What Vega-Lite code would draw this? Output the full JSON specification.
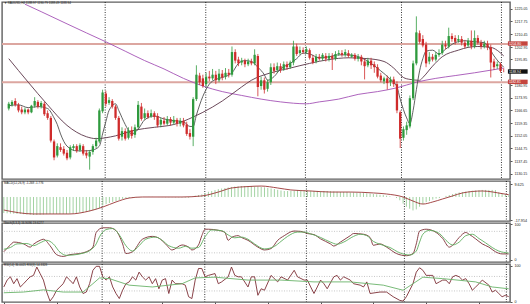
{
"$schema":"https://vega.github.io/schema/vega-lite/v6.json",
"padding":0,"background":"white","spacing":2,"bounds":"flush",
"resolve":{"scale":{"color":"independent"}},
"config":{"view":{"stroke":"#5f5f5f","strokeWidth":1.4},"font":"Liberation Sans","axis":{"labelFont":"Liberation Sans","labelFontSize":3.7,"labelColor":"#222","tickColor":"#555","tickSize":2,"domain":false,"grid":false,"labelPadding":2,"labelOverlap":false,"labelBound":false,"labelSeparation":0},"title":{"font":"Liberation Sans","fontWeight":"normal","color":"#222","anchor":"start","frame":"group","baseline":"top"}},
"datasets":{
"seps":[{"b":29.8},{"b":60.9},{"b":91.7},{"b":121.4},{"b":152.3}],
"levels":[{"p":1204.8},{"p":1182.8}],
"tags":[{"p":1205.0,"t":"1204.80","k":"r"},{"p":1188.94,"t":"1188.94","k":"k"},{"p":1183.0,"t":"1182.81","k":"r"}],
"candles":[
{"b":0,"o":1167.7,"h":1171.5,"l":1166.6,"c":1170.4},{"b":1,"o":1169.8,"h":1172.5,"l":1168.8,"c":1171.5},{"b":2,"o":1172.0,"h":1173.6,"l":1168.8,"c":1169.8},{"b":3,"o":1169.8,"h":1170.9,"l":1165.5,"c":1166.6},{"b":4,"o":1167.1,"h":1168.8,"l":1164.4,"c":1165.5},{"b":5,"o":1165.5,"h":1168.2,"l":1164.4,"c":1167.1},{"b":6,"o":1167.1,"h":1167.7,"l":1164.4,"c":1165.5},{"b":7,"o":1165.5,"h":1169.8,"l":1165.0,"c":1169.3},{"b":8,"o":1169.3,"h":1174.2,"l":1168.2,"c":1172.0},{"b":9,"o":1171.5,"h":1172.5,"l":1167.7,"c":1168.8},
{"b":10,"o":1168.8,"h":1172.0,"l":1167.7,"c":1170.9},{"b":11,"o":1170.4,"h":1171.5,"l":1163.4,"c":1164.4},{"b":12,"o":1165.0,"h":1166.6,"l":1161.2,"c":1162.3},{"b":13,"o":1162.3,"h":1163.4,"l":1148.2,"c":1149.3},{"b":14,"o":1148.8,"h":1149.9,"l":1138.0,"c":1139.6},{"b":15,"o":1140.7,"h":1147.7,"l":1139.6,"c":1146.1},{"b":16,"o":1145.5,"h":1147.7,"l":1142.8,"c":1143.9},{"b":17,"o":1144.5,"h":1146.1,"l":1140.7,"c":1141.8},{"b":18,"o":1142.3,"h":1143.9,"l":1138.0,"c":1139.1},{"b":19,"o":1139.6,"h":1146.6,"l":1138.5,"c":1145.5},
{"b":20,"o":1145.0,"h":1147.2,"l":1143.4,"c":1146.1},{"b":21,"o":1146.1,"h":1147.2,"l":1142.3,"c":1143.4},{"b":22,"o":1143.9,"h":1147.7,"l":1142.8,"c":1146.6},{"b":23,"o":1146.1,"h":1147.2,"l":1140.7,"c":1141.8},{"b":24,"o":1142.3,"h":1143.9,"l":1139.1,"c":1140.7},{"b":25,"o":1140.1,"h":1143.9,"l":1132.6,"c":1142.8},{"b":26,"o":1142.8,"h":1147.2,"l":1141.2,"c":1146.1},{"b":27,"o":1146.1,"h":1150.9,"l":1145.0,"c":1149.3},{"b":28,"o":1148.8,"h":1167.7,"l":1147.7,"c":1166.6},{"b":29,"o":1166.1,"h":1178.5,"l":1165.0,"c":1176.9},
{"b":30,"o":1176.3,"h":1177.9,"l":1168.8,"c":1170.4},{"b":31,"o":1170.9,"h":1174.2,"l":1169.8,"c":1172.5},{"b":32,"o":1172.0,"h":1173.1,"l":1167.7,"c":1168.8},{"b":33,"o":1168.8,"h":1169.8,"l":1161.2,"c":1162.3},{"b":34,"o":1162.3,"h":1163.4,"l":1149.3,"c":1150.4},{"b":35,"o":1151.5,"h":1156.9,"l":1149.3,"c":1154.7},{"b":36,"o":1154.7,"h":1156.3,"l":1149.3,"c":1150.4},{"b":37,"o":1150.9,"h":1156.9,"l":1149.9,"c":1155.3},{"b":38,"o":1155.3,"h":1157.4,"l":1150.4,"c":1152.0},{"b":39,"o":1152.6,"h":1158.5,"l":1150.9,"c":1156.9},
{"b":40,"o":1156.9,"h":1172.0,"l":1155.8,"c":1169.8},{"b":41,"o":1168.8,"h":1170.9,"l":1160.7,"c":1161.7},{"b":42,"o":1162.3,"h":1167.7,"l":1161.2,"c":1165.0},{"b":43,"o":1165.0,"h":1166.6,"l":1161.7,"c":1162.8},{"b":44,"o":1163.4,"h":1167.1,"l":1162.3,"c":1165.0},{"b":45,"o":1165.0,"h":1166.1,"l":1161.2,"c":1162.8},{"b":46,"o":1163.4,"h":1165.0,"l":1156.9,"c":1158.0},{"b":47,"o":1158.5,"h":1162.3,"l":1156.9,"c":1161.2},{"b":48,"o":1160.7,"h":1162.8,"l":1158.0,"c":1159.0},{"b":49,"o":1159.0,"h":1163.4,"l":1158.0,"c":1161.7},
{"b":50,"o":1161.7,"h":1162.8,"l":1158.0,"c":1159.6},{"b":51,"o":1159.6,"h":1163.4,"l":1158.5,"c":1161.2},{"b":52,"o":1161.2,"h":1162.3,"l":1157.4,"c":1159.0},{"b":53,"o":1159.0,"h":1162.3,"l":1157.4,"c":1160.7},{"b":54,"o":1160.7,"h":1162.3,"l":1156.9,"c":1158.0},{"b":55,"o":1158.5,"h":1160.1,"l":1152.0,"c":1153.1},{"b":56,"o":1153.6,"h":1155.8,"l":1149.9,"c":1151.5},{"b":57,"o":1151.5,"h":1174.2,"l":1146.1,"c":1173.1},{"b":58,"o":1173.1,"h":1192.5,"l":1172.0,"c":1187.1},{"b":59,"o":1186.6,"h":1188.2,"l":1181.2,"c":1182.8},
{"b":60,"o":1185.0,"h":1187.1,"l":1179.6,"c":1180.6},{"b":61,"o":1181.7,"h":1188.2,"l":1180.1,"c":1186.0},{"b":62,"o":1186.0,"h":1189.3,"l":1183.3,"c":1185.0},{"b":63,"o":1185.0,"h":1190.4,"l":1183.9,"c":1187.1},{"b":64,"o":1187.1,"h":1189.3,"l":1181.7,"c":1183.9},{"b":65,"o":1183.9,"h":1190.4,"l":1182.8,"c":1187.7},{"b":66,"o":1187.7,"h":1189.8,"l":1183.9,"c":1185.5},{"b":67,"o":1186.0,"h":1190.9,"l":1184.4,"c":1188.2},{"b":68,"o":1188.2,"h":1190.4,"l":1185.5,"c":1187.1},{"b":69,"o":1187.1,"h":1203.3,"l":1186.0,"c":1200.1},
{"b":70,"o":1200.1,"h":1201.7,"l":1193.6,"c":1195.2},{"b":71,"o":1195.8,"h":1197.4,"l":1192.0,"c":1193.6},{"b":72,"o":1194.1,"h":1196.8,"l":1192.5,"c":1195.2},{"b":73,"o":1195.2,"h":1196.3,"l":1191.4,"c":1193.1},{"b":74,"o":1193.1,"h":1196.3,"l":1192.0,"c":1194.7},{"b":75,"o":1194.7,"h":1196.3,"l":1192.5,"c":1193.6},{"b":76,"o":1193.6,"h":1201.7,"l":1192.5,"c":1198.5},{"b":77,"o":1197.9,"h":1199.0,"l":1174.7,"c":1180.1},{"b":78,"o":1180.6,"h":1186.0,"l":1178.5,"c":1183.9},{"b":79,"o":1183.9,"h":1185.5,"l":1176.3,"c":1178.5},
{"b":80,"o":1179.0,"h":1184.4,"l":1177.4,"c":1182.8},{"b":81,"o":1182.8,"h":1193.6,"l":1181.2,"c":1191.4},{"b":82,"o":1191.4,"h":1193.6,"l":1187.7,"c":1189.3},{"b":83,"o":1189.8,"h":1194.1,"l":1188.2,"c":1192.0},{"b":84,"o":1192.0,"h":1193.6,"l":1188.2,"c":1189.8},{"b":85,"o":1190.4,"h":1194.7,"l":1189.3,"c":1193.1},{"b":86,"o":1193.1,"h":1194.7,"l":1189.8,"c":1191.4},{"b":87,"o":1191.4,"h":1195.2,"l":1190.4,"c":1194.1},{"b":88,"o":1194.1,"h":1206.6,"l":1192.5,"c":1203.3},{"b":89,"o":1203.3,"h":1204.9,"l":1197.9,"c":1199.0},
{"b":90,"o":1199.5,"h":1203.3,"l":1198.5,"c":1201.2},{"b":91,"o":1201.2,"h":1202.8,"l":1199.0,"c":1200.1},{"b":92,"o":1200.1,"h":1203.3,"l":1199.0,"c":1201.7},{"b":93,"o":1201.2,"h":1202.2,"l":1195.8,"c":1196.8},{"b":94,"o":1196.8,"h":1198.5,"l":1193.1,"c":1194.1},{"b":95,"o":1194.7,"h":1199.0,"l":1193.6,"c":1197.4},{"b":96,"o":1197.4,"h":1199.0,"l":1195.2,"c":1196.3},{"b":97,"o":1196.3,"h":1199.5,"l":1195.2,"c":1198.5},{"b":98,"o":1197.9,"h":1199.5,"l":1194.7,"c":1196.3},{"b":99,"o":1196.3,"h":1199.5,"l":1194.7,"c":1197.9},
{"b":100,"o":1197.9,"h":1199.5,"l":1189.8,"c":1196.3},{"b":101,"o":1196.3,"h":1200.6,"l":1195.2,"c":1199.0},{"b":102,"o":1199.0,"h":1201.2,"l":1197.9,"c":1199.5},{"b":103,"o":1199.5,"h":1201.2,"l":1197.4,"c":1198.5},{"b":104,"o":1198.5,"h":1201.7,"l":1197.4,"c":1200.1},{"b":105,"o":1199.5,"h":1201.2,"l":1196.8,"c":1197.9},{"b":106,"o":1197.4,"h":1199.5,"l":1196.8,"c":1198.5},{"b":107,"o":1198.5,"h":1199.5,"l":1195.2,"c":1196.3},{"b":108,"o":1196.3,"h":1199.0,"l":1194.7,"c":1197.4},{"b":109,"o":1197.4,"h":1198.5,"l":1192.5,"c":1194.7},
{"b":110,"o":1194.7,"h":1196.3,"l":1184.4,"c":1192.0},{"b":111,"o":1192.5,"h":1196.8,"l":1191.4,"c":1195.2},{"b":112,"o":1195.2,"h":1196.8,"l":1190.4,"c":1192.5},{"b":113,"o":1193.1,"h":1194.7,"l":1188.2,"c":1191.4},{"b":114,"o":1191.4,"h":1193.1,"l":1185.0,"c":1186.0},{"b":115,"o":1186.6,"h":1188.2,"l":1182.8,"c":1183.9},{"b":116,"o":1183.3,"h":1186.0,"l":1181.7,"c":1185.0},{"b":117,"o":1185.0,"h":1186.6,"l":1178.5,"c":1182.3},{"b":118,"o":1182.8,"h":1186.0,"l":1180.6,"c":1184.4},{"b":119,"o":1184.4,"h":1186.0,"l":1180.1,"c":1181.7},
{"b":120,"o":1181.7,"h":1183.3,"l":1165.0,"c":1166.6},{"b":121,"o":1165.5,"h":1166.6,"l":1145.0,"c":1150.4},{"b":122,"o":1150.9,"h":1157.4,"l":1149.3,"c":1155.8},{"b":123,"o":1155.3,"h":1160.1,"l":1152.6,"c":1158.0},{"b":124,"o":1157.4,"h":1175.2,"l":1156.3,"c":1173.6},{"b":125,"o":1173.6,"h":1195.2,"l":1172.5,"c":1193.6},{"b":126,"o":1193.6,"h":1220.6,"l":1192.5,"c":1211.4},{"b":127,"o":1210.9,"h":1212.5,"l":1204.9,"c":1206.0},{"b":128,"o":1207.6,"h":1209.8,"l":1202.8,"c":1203.9},{"b":129,"o":1204.4,"h":1206.0,"l":1191.4,"c":1193.6},
{"b":130,"o":1194.7,"h":1200.1,"l":1193.1,"c":1197.4},{"b":131,"o":1197.4,"h":1199.0,"l":1194.7,"c":1195.8},{"b":132,"o":1195.8,"h":1200.1,"l":1194.7,"c":1198.5},{"b":133,"o":1198.5,"h":1201.7,"l":1197.4,"c":1199.5},{"b":134,"o":1199.5,"h":1206.6,"l":1198.5,"c":1204.4},{"b":135,"o":1204.4,"h":1206.6,"l":1201.7,"c":1203.3},{"b":136,"o":1203.3,"h":1214.1,"l":1202.2,"c":1209.3},{"b":137,"o":1209.3,"h":1210.9,"l":1206.0,"c":1207.6},{"b":138,"o":1208.2,"h":1209.8,"l":1204.4,"c":1206.0},{"b":139,"o":1206.6,"h":1209.8,"l":1205.5,"c":1207.6},
{"b":140,"o":1207.6,"h":1209.3,"l":1203.9,"c":1205.5},{"b":141,"o":1205.5,"h":1207.1,"l":1202.2,"c":1203.3},{"b":142,"o":1203.9,"h":1208.2,"l":1202.8,"c":1206.6},{"b":143,"o":1206.6,"h":1212.5,"l":1201.7,"c":1203.3},{"b":144,"o":1203.3,"h":1212.5,"l":1202.2,"c":1208.2},{"b":145,"o":1208.2,"h":1209.8,"l":1204.4,"c":1205.5},{"b":146,"o":1205.5,"h":1207.1,"l":1201.7,"c":1203.3},{"b":147,"o":1203.3,"h":1206.6,"l":1202.2,"c":1204.9},{"b":148,"o":1204.9,"h":1206.6,"l":1201.2,"c":1202.8},{"b":149,"o":1202.8,"h":1204.4,"l":1185.5,"c":1194.1},
{"b":150,"o":1194.7,"h":1196.3,"l":1189.8,"c":1191.4},{"b":151,"o":1192.0,"h":1194.7,"l":1190.4,"c":1193.1},{"b":152,"o":1193.1,"h":1194.1,"l":1188.2,"c":1189.3},{"b":153,"o":1188.97,"h":1190.79,"l":1188.49,"c":1188.94}],
"ma":[
{"b":5,"v":1227.6,"s":"slow"},{"b":10,"v":1223.3,"s":"slow"},{"b":18,"v":1216.3,"s":"slow"},{"b":24,"v":1211.1,"s":"slow"},{"b":30,"v":1206.0,"s":"slow"},{"b":36,"v":1200.6,"s":"slow"},{"b":42,"v":1195.2,"s":"slow"},{"b":48,"v":1190.4,"s":"slow"},{"b":54,"v":1185.0,"s":"slow"},{"b":60,"v":1180.6,"s":"slow"},{"b":66,"v":1177.4,"s":"slow"},{"b":72,"v":1175.2,"s":"slow"},{"b":78,"v":1173.1,"s":"slow"},{"b":84,"v":1171.5,"s":"slow"},{"b":92,"v":1170.4,"s":"slow"},{"b":96,"v":1171.5,"s":"slow"},{"b":102,"v":1173.1,"s":"slow"},{"b":108,"v":1175.8,"s":"slow"},{"b":114,"v":1177.4,"s":"slow"},{"b":120,"v":1179.6,"s":"slow"},{"b":126,"v":1182.8,"s":"slow"},{"b":132,"v":1185.0,"s":"slow"},{"b":138,"v":1186.6,"s":"slow"},{"b":144,"v":1188.2,"s":"slow"},{"b":153,"v":1190.9,"s":"slow"},
{"b":0,"v":1196.3,"s":"mid"},{"b":6,"v":1182.8,"s":"mid"},{"b":12,"v":1169.8,"s":"mid"},{"b":18,"v":1158.0,"s":"mid"},{"b":24,"v":1151.5,"s":"mid"},{"b":27,"v":1150.4,"s":"mid"},{"b":33,"v":1152.0,"s":"mid"},{"b":39,"v":1155.3,"s":"mid"},{"b":45,"v":1156.9,"s":"mid"},{"b":51,"v":1158.5,"s":"mid"},{"b":57,"v":1162.8,"s":"mid"},{"b":60,"v":1165.5,"s":"mid"},{"b":66,"v":1172.0,"s":"mid"},{"b":72,"v":1180.1,"s":"mid"},{"b":75,"v":1183.9,"s":"mid"},{"b":81,"v":1188.2,"s":"mid"},{"b":87,"v":1190.9,"s":"mid"},{"b":93,"v":1193.6,"s":"mid"},{"b":99,"v":1195.8,"s":"mid"},{"b":105,"v":1196.8,"s":"mid"},{"b":111,"v":1196.3,"s":"mid"},{"b":116,"v":1194.7,"s":"mid"},{"b":119,"v":1190.9,"s":"mid"},{"b":122,"v":1185.5,"s":"mid"},{"b":124,"v":1184.4,"s":"mid"},{"b":127,"v":1183.9,"s":"mid"},{"b":128,"v":1185.5,"s":"mid"},{"b":131,"v":1192.0,"s":"mid"},{"b":134,"v":1197.4,"s":"mid"},{"b":139,"v":1201.2,"s":"mid"},{"b":142,"v":1202.8,"s":"mid"},{"b":145,"v":1203.3,"s":"mid"},{"b":149,"v":1202.8,"s":"mid"},{"b":153,"v":1197.9,"s":"mid"},
{"b":0,"v":1169.3,"s":"fast"},{"b":3,"v":1169.8,"s":"fast"},{"b":6,"v":1168.2,"s":"fast"},{"b":9,"v":1168.8,"s":"fast"},{"b":12,"v":1167.7,"s":"fast"},{"b":14,"v":1162.3,"s":"fast"},{"b":15,"v":1158.5,"s":"fast"},{"b":16,"v":1153.1,"s":"fast"},{"b":18,"v":1146.1,"s":"fast"},{"b":21,"v":1143.4,"s":"fast"},{"b":24,"v":1143.4,"s":"fast"},{"b":26,"v":1143.9,"s":"fast"},{"b":28,"v":1146.1,"s":"fast"},{"b":29,"v":1153.1,"s":"fast"},{"b":30,"v":1160.1,"s":"fast"},{"b":31,"v":1166.6,"s":"fast"},{"b":33,"v":1170.4,"s":"fast"},{"b":34,"v":1166.6,"s":"fast"},{"b":36,"v":1158.5,"s":"fast"},{"b":38,"v":1153.1,"s":"fast"},{"b":40,"v":1155.8,"s":"fast"},{"b":42,"v":1161.2,"s":"fast"},{"b":45,"v":1163.4,"s":"fast"},{"b":48,"v":1161.7,"s":"fast"},{"b":51,"v":1160.7,"s":"fast"},{"b":54,"v":1160.1,"s":"fast"},{"b":56,"v":1157.4,"s":"fast"},{"b":57,"v":1157.4,"s":"fast"},{"b":58,"v":1163.9,"s":"fast"},{"b":60,"v":1174.7,"s":"fast"},{"b":62,"v":1181.7,"s":"fast"},{"b":64,"v":1184.4,"s":"fast"},{"b":66,"v":1185.5,"s":"fast"},{"b":69,"v":1188.2,"s":"fast"},{"b":71,"v":1193.6,"s":"fast"},{"b":73,"v":1195.2,"s":"fast"},{"b":75,"v":1194.7,"s":"fast"},{"b":77,"v":1191.4,"s":"fast"},{"b":79,"v":1187.1,"s":"fast"},{"b":80,"v":1183.9,"s":"fast"},{"b":82,"v":1186.0,"s":"fast"},{"b":84,"v":1190.4,"s":"fast"},{"b":87,"v":1193.6,"s":"fast"},{"b":89,"v":1196.3,"s":"fast"},{"b":91,"v":1199.5,"s":"fast"},{"b":93,"v":1199.0,"s":"fast"},{"b":96,"v":1196.8,"s":"fast"},{"b":99,"v":1197.4,"s":"fast"},{"b":102,"v":1198.5,"s":"fast"},{"b":105,"v":1198.5,"s":"fast"},{"b":109,"v":1196.8,"s":"fast"},{"b":112,"v":1193.6,"s":"fast"},{"b":115,"v":1189.3,"s":"fast"},{"b":118,"v":1184.4,"s":"fast"},{"b":120,"v":1180.1,"s":"fast"},{"b":121,"v":1173.1,"s":"fast"},{"b":123,"v":1162.3,"s":"fast"},{"b":124,"v":1159.0,"s":"fast"},{"b":125,"v":1166.6,"s":"fast"},{"b":126,"v":1178.5,"s":"fast"},{"b":127,"v":1189.3,"s":"fast"},{"b":128,"v":1196.3,"s":"fast"},{"b":129,"v":1200.6,"s":"fast"},{"b":131,"v":1201.2,"s":"fast"},{"b":133,"v":1199.0,"s":"fast"},{"b":135,"v":1201.7,"s":"fast"},{"b":138,"v":1205.5,"s":"fast"},{"b":141,"v":1206.6,"s":"fast"},{"b":144,"v":1206.0,"s":"fast"},{"b":147,"v":1205.5,"s":"fast"},{"b":148,"v":1203.9,"s":"fast"},{"b":150,"v":1197.9,"s":"fast"},{"b":153,"v":1191.4,"s":"fast"}],
"macd":[
{"b":0,"m":-12.3},{"b":1,"m":-12.5},{"b":2,"m":-12.7},{"b":3,"m":-12.8},{"b":4,"m":-13.0},{"b":5,"m":-13.0},{"b":6,"m":-13.2},{"b":7,"m":-13.4},{"b":8,"m":-13.6},{"b":9,"m":-13.8},{"b":10,"m":-13.8},{"b":11,"m":-13.6},{"b":12,"m":-13.4},{"b":13,"m":-13.2},{"b":14,"m":-13.0},{"b":15,"m":-13.0},{"b":16,"m":-13.0},{"b":17,"m":-13.0},{"b":18,"m":-13.0},{"b":19,"m":-13.0},{"b":20,"m":-12.8},{"b":21,"m":-12.6},{"b":22,"m":-12.3},{"b":23,"m":-12.0},{"b":24,"m":-11.8},{"b":25,"m":-11.5},{"b":26,"m":-11.0},{"b":27,"m":-10.3},{"b":28,"m":-9.5},{"b":29,"m":-8.5},{"b":30,"m":-6.5},{"b":31,"m":-5.5},{"b":32,"m":-4.6},{"b":33,"m":-3.8},{"b":34,"m":-3.1},{"b":35,"m":-2.3},{"b":36,"m":-1.5},{"b":37,"m":-1.0},{"b":38,"m":-0.8},{"b":39,"m":-0.6},{"b":40,"m":-0.4},{"b":41,"m":-0.2},{"b":42,"m":-0.1},{"b":43,"m":0.0},{"b":44,"m":0.1},{"b":45,"m":0.1},{"b":46,"m":0.0},{"b":47,"m":-0.1},{"b":48,"m":-0.1},{"b":49,"m":-0.2},{"b":50,"m":-0.2},{"b":51,"m":-0.2},{"b":52,"m":-0.3},{"b":53,"m":-0.3},{"b":54,"m":-0.4},{"b":55,"m":-0.5},{"b":56,"m":-0.6},{"b":57,"m":0.2},{"b":58,"m":1.0},{"b":59,"m":1.5},{"b":60,"m":2.0},{"b":61,"m":3.0},{"b":62,"m":4.0},{"b":63,"m":4.6},{"b":64,"m":5.3},{"b":65,"m":6.0},{"b":66,"m":6.5},{"b":67,"m":6.9},{"b":68,"m":7.3},{"b":69,"m":7.7},{"b":70,"m":8.0},{"b":71,"m":8.2},{"b":72,"m":8.4},{"b":73,"m":8.4},{"b":74,"m":8.4},{"b":75,"m":8.4},{"b":76,"m":8.2},{"b":77,"m":8.0},{"b":78,"m":7.7},{"b":79,"m":7.4},{"b":80,"m":7.0},{"b":81,"m":6.5},{"b":82,"m":6.1},{"b":83,"m":5.5},{"b":84,"m":5.0},{"b":85,"m":4.6},{"b":86,"m":4.6},{"b":87,"m":4.6},{"b":88,"m":4.8},{"b":89,"m":5.2},{"b":90,"m":5.4},{"b":91,"m":5.2},{"b":92,"m":5.0},{"b":93,"m":4.8},{"b":94,"m":4.6},{"b":95,"m":4.6},{"b":96,"m":4.6},{"b":97,"m":4.6},{"b":98,"m":4.6},{"b":99,"m":4.5},{"b":100,"m":4.2},{"b":101,"m":4.0},{"b":102,"m":3.8},{"b":103,"m":3.8},{"b":104,"m":3.8},{"b":105,"m":3.6},{"b":106,"m":3.4},{"b":107,"m":3.2},{"b":108,"m":3.1},{"b":109,"m":3.0},{"b":110,"m":2.8},{"b":111,"m":2.6},{"b":112,"m":2.3},{"b":113,"m":2.0},{"b":114,"m":1.7},{"b":115,"m":1.5},{"b":116,"m":1.0},{"b":117,"m":0.5},{"b":118,"m":0.0},{"b":119,"m":-0.8},{"b":120,"m":-2.5},{"b":121,"m":-5.0},{"b":122,"m":-7.5},{"b":123,"m":-9.0},{"b":124,"m":-10.3},{"b":125,"m":-9.5},{"b":126,"m":-7.5},{"b":127,"m":-5.4},{"b":128,"m":-4.0},{"b":129,"m":-3.1},{"b":130,"m":-2.0},{"b":131,"m":-1.2},{"b":132,"m":-0.8},{"b":133,"m":0.0},{"b":134,"m":0.8},{"b":135,"m":1.5},{"b":136,"m":2.3},{"b":137,"m":3.0},{"b":138,"m":3.5},{"b":139,"m":3.8},{"b":140,"m":4.2},{"b":141,"m":4.6},{"b":142,"m":4.8},{"b":143,"m":5.0},{"b":144,"m":5.2},{"b":145,"m":5.4},{"b":146,"m":5.4},{"b":147,"m":5.4},{"b":148,"m":5.4},{"b":149,"m":5.3},{"b":150,"m":3.6},{"b":151,"m":2.8},{"b":152,"m":2.0},{"b":153,"m":1.27}],
"macds":[{"b":0,"v":-10.0},{"b":9,"v":-13.0},{"b":20,"v":-13.0},{"b":26,"v":-10.7},{"b":30,"v":-7.7},{"b":34,"v":-3.8},{"b":38,"v":-0.8},{"b":42,"v":0},{"b":54,"v":0},{"b":60,"v":0.8},{"b":65,"v":3.8},{"b":69,"v":6.9},{"b":74,"v":8.0},{"b":78,"v":8.4},{"b":83,"v":6.9},{"b":87,"v":5.4},{"b":93,"v":4.6},{"b":99,"v":3.8},{"b":105,"v":3.8},{"b":112,"v":3.1},{"b":116,"v":2.3},{"b":121,"v":0},{"b":124,"v":-3.1},{"b":127,"v":-5.4},{"b":130,"v":-3.8},{"b":133,"v":-1.5},{"b":136,"v":0.8},{"b":139,"v":3.1},{"b":145,"v":4.6},{"b":151,"v":2.6},{"b":153,"v":1.78}],
"stoch":[
{"b":0,"v":23,"s":"m"},{"b":2,"v":42,"s":"m"},{"b":3,"v":50,"s":"m"},{"b":6,"v":45,"s":"m"},{"b":8,"v":36,"s":"m"},{"b":9,"v":44,"s":"m"},{"b":11,"v":55,"s":"m"},{"b":12,"v":58,"s":"m"},{"b":14,"v":40,"s":"m"},{"b":16,"v":15,"s":"m"},{"b":18,"v":10,"s":"m"},{"b":20,"v":15,"s":"m"},{"b":23,"v":18,"s":"m"},{"b":25,"v":23,"s":"m"},{"b":27,"v":36,"s":"m"},{"b":28,"v":77,"s":"m"},{"b":30,"v":90,"s":"m"},{"b":32,"v":90,"s":"m"},{"b":34,"v":82,"s":"m"},{"b":36,"v":45,"s":"m"},{"b":37,"v":18,"s":"m"},{"b":39,"v":23,"s":"m"},{"b":42,"v":58,"s":"m"},{"b":45,"v":66,"s":"m"},{"b":47,"v":61,"s":"m"},{"b":49,"v":45,"s":"m"},{"b":51,"v":28,"s":"m"},{"b":54,"v":42,"s":"m"},{"b":56,"v":36,"s":"m"},{"b":57,"v":28,"s":"m"},{"b":59,"v":42,"s":"m"},{"b":60,"v":68,"s":"m"},{"b":61,"v":86,"s":"m"},{"b":62,"v":86,"s":"m"},{"b":65,"v":83,"s":"m"},{"b":67,"v":77,"s":"m"},{"b":68,"v":55,"s":"m"},{"b":69,"v":63,"s":"m"},{"b":71,"v":68,"s":"m"},{"b":72,"v":63,"s":"m"},{"b":74,"v":55,"s":"m"},{"b":77,"v":36,"s":"m"},{"b":79,"v":28,"s":"m"},{"b":81,"v":32,"s":"m"},{"b":83,"v":55,"s":"m"},{"b":85,"v":68,"s":"m"},{"b":88,"v":81,"s":"m"},{"b":90,"v":80,"s":"m"},{"b":92,"v":74,"s":"m"},{"b":94,"v":71,"s":"m"},{"b":96,"v":59,"s":"m"},{"b":99,"v":45,"s":"m"},{"b":100,"v":39,"s":"m"},{"b":102,"v":50,"s":"m"},{"b":105,"v":68,"s":"m"},{"b":106,"v":74,"s":"m"},{"b":109,"v":72,"s":"m"},{"b":111,"v":63,"s":"m"},{"b":112,"v":41,"s":"m"},{"b":114,"v":45,"s":"m"},{"b":116,"v":36,"s":"m"},{"b":119,"v":18,"s":"m"},{"b":122,"v":12,"s":"m"},{"b":124,"v":18,"s":"m"},{"b":125,"v":45,"s":"m"},{"b":126,"v":81,"s":"m"},{"b":128,"v":86,"s":"m"},{"b":131,"v":77,"s":"m"},{"b":133,"v":60,"s":"m"},{"b":135,"v":36,"s":"m"},{"b":136,"v":41,"s":"m"},{"b":138,"v":63,"s":"m"},{"b":140,"v":77,"s":"m"},{"b":141,"v":72,"s":"m"},{"b":143,"v":59,"s":"m"},{"b":145,"v":45,"s":"m"},{"b":147,"v":36,"s":"m"},{"b":149,"v":23,"s":"m"},{"b":151,"v":17,"s":"m"},{"b":153,"v":16.91,"s":"m"},
{"b":0,"v":30,"s":"s"},{"b":2,"v":35,"s":"s"},{"b":4,"v":45,"s":"s"},{"b":7,"v":46,"s":"s"},{"b":9,"v":40,"s":"s"},{"b":11,"v":48,"s":"s"},{"b":13,"v":55,"s":"s"},{"b":15,"v":45,"s":"s"},{"b":17,"v":22,"s":"s"},{"b":19,"v":13,"s":"s"},{"b":21,"v":14,"s":"s"},{"b":24,"v":19,"s":"s"},{"b":26,"v":26,"s":"s"},{"b":28,"v":45,"s":"s"},{"b":29,"v":65,"s":"s"},{"b":31,"v":85,"s":"s"},{"b":33,"v":88,"s":"s"},{"b":35,"v":70,"s":"s"},{"b":37,"v":40,"s":"s"},{"b":39,"v":25,"s":"s"},{"b":41,"v":40,"s":"s"},{"b":43,"v":58,"s":"s"},{"b":46,"v":64,"s":"s"},{"b":48,"v":55,"s":"s"},{"b":50,"v":40,"s":"s"},{"b":53,"v":33,"s":"s"},{"b":55,"v":38,"s":"s"},{"b":57,"v":33,"s":"s"},{"b":59,"v":35,"s":"s"},{"b":61,"v":65,"s":"s"},{"b":63,"v":84,"s":"s"},{"b":66,"v":82,"s":"s"},{"b":68,"v":70,"s":"s"},{"b":70,"v":62,"s":"s"},{"b":72,"v":64,"s":"s"},{"b":74,"v":58,"s":"s"},{"b":76,"v":45,"s":"s"},{"b":79,"v":31,"s":"s"},{"b":82,"v":38,"s":"s"},{"b":84,"v":52,"s":"s"},{"b":86,"v":66,"s":"s"},{"b":89,"v":78,"s":"s"},{"b":91,"v":78,"s":"s"},{"b":93,"v":73,"s":"s"},{"b":96,"v":63,"s":"s"},{"b":99,"v":50,"s":"s"},{"b":101,"v":44,"s":"s"},{"b":103,"v":50,"s":"s"},{"b":106,"v":66,"s":"s"},{"b":108,"v":72,"s":"s"},{"b":110,"v":68,"s":"s"},{"b":112,"v":52,"s":"s"},{"b":114,"v":44,"s":"s"},{"b":117,"v":35,"s":"s"},{"b":120,"v":20,"s":"s"},{"b":123,"v":14,"s":"s"},{"b":125,"v":25,"s":"s"},{"b":126,"v":50,"s":"s"},{"b":127,"v":72,"s":"s"},{"b":129,"v":83,"s":"s"},{"b":132,"v":74,"s":"s"},{"b":134,"v":55,"s":"s"},{"b":136,"v":42,"s":"s"},{"b":138,"v":50,"s":"s"},{"b":140,"v":68,"s":"s"},{"b":142,"v":72,"s":"s"},{"b":144,"v":60,"s":"s"},{"b":146,"v":48,"s":"s"},{"b":148,"v":35,"s":"s"},{"b":150,"v":25,"s":"s"},{"b":153,"v":19.63,"s":"s"}],
"rsi":[
{"b":0,"v":41,"s":"f"},{"b":1,"v":60,"s":"f"},{"b":2,"v":69,"s":"f"},{"b":3,"v":50,"s":"f"},{"b":4,"v":64,"s":"f"},{"b":5,"v":41,"s":"f"},{"b":6,"v":50,"s":"f"},{"b":7,"v":60,"s":"f"},{"b":8,"v":69,"s":"f"},{"b":9,"v":73,"s":"f"},{"b":10,"v":96,"s":"f"},{"b":11,"v":78,"s":"f"},{"b":12,"v":60,"s":"f"},{"b":13,"v":27,"s":"f"},{"b":14,"v":2,"s":"f"},{"b":15,"v":14,"s":"f"},{"b":16,"v":32,"s":"f"},{"b":17,"v":41,"s":"f"},{"b":18,"v":50,"s":"f"},{"b":19,"v":69,"s":"f"},{"b":20,"v":60,"s":"f"},{"b":21,"v":50,"s":"f"},{"b":22,"v":69,"s":"f"},{"b":23,"v":41,"s":"f"},{"b":24,"v":23,"s":"f"},{"b":25,"v":27,"s":"f"},{"b":26,"v":50,"s":"f"},{"b":27,"v":87,"s":"f"},{"b":28,"v":98,"s":"f"},{"b":29,"v":98,"s":"f"},{"b":30,"v":69,"s":"f"},{"b":31,"v":60,"s":"f"},{"b":32,"v":69,"s":"f"},{"b":33,"v":41,"s":"f"},{"b":34,"v":23,"s":"f"},{"b":35,"v":9,"s":"f"},{"b":36,"v":32,"s":"f"},{"b":37,"v":50,"s":"f"},{"b":38,"v":55,"s":"f"},{"b":39,"v":69,"s":"f"},{"b":40,"v":60,"s":"f"},{"b":41,"v":82,"s":"f"},{"b":42,"v":69,"s":"f"},{"b":43,"v":60,"s":"f"},{"b":44,"v":69,"s":"f"},{"b":45,"v":50,"s":"f"},{"b":46,"v":64,"s":"f"},{"b":47,"v":36,"s":"f"},{"b":48,"v":60,"s":"f"},{"b":49,"v":64,"s":"f"},{"b":50,"v":23,"s":"f"},{"b":51,"v":60,"s":"f"},{"b":52,"v":50,"s":"f"},{"b":54,"v":50,"s":"f"},{"b":55,"v":46,"s":"f"},{"b":56,"v":14,"s":"f"},{"b":57,"v":9,"s":"f"},{"b":58,"v":60,"s":"f"},{"b":59,"v":92,"s":"f"},{"b":60,"v":92,"s":"f"},{"b":61,"v":69,"s":"f"},{"b":62,"v":73,"s":"f"},{"b":64,"v":78,"s":"f"},{"b":65,"v":50,"s":"f"},{"b":66,"v":55,"s":"f"},{"b":68,"v":69,"s":"f"},{"b":69,"v":96,"s":"f"},{"b":70,"v":73,"s":"f"},{"b":71,"v":69,"s":"f"},{"b":72,"v":69,"s":"f"},{"b":74,"v":41,"s":"f"},{"b":75,"v":69,"s":"f"},{"b":76,"v":69,"s":"f"},{"b":77,"v":18,"s":"f"},{"b":78,"v":36,"s":"f"},{"b":79,"v":32,"s":"f"},{"b":81,"v":73,"s":"f"},{"b":83,"v":55,"s":"f"},{"b":84,"v":69,"s":"f"},{"b":86,"v":60,"s":"f"},{"b":88,"v":87,"s":"f"},{"b":89,"v":69,"s":"f"},{"b":91,"v":60,"s":"f"},{"b":92,"v":60,"s":"f"},{"b":93,"v":41,"s":"f"},{"b":94,"v":23,"s":"f"},{"b":95,"v":41,"s":"f"},{"b":96,"v":60,"s":"f"},{"b":97,"v":50,"s":"f"},{"b":98,"v":36,"s":"f"},{"b":100,"v":69,"s":"f"},{"b":101,"v":73,"s":"f"},{"b":102,"v":60,"s":"f"},{"b":103,"v":69,"s":"f"},{"b":105,"v":60,"s":"f"},{"b":106,"v":50,"s":"f"},{"b":108,"v":46,"s":"f"},{"b":109,"v":41,"s":"f"},{"b":110,"v":55,"s":"f"},{"b":111,"v":23,"s":"f"},{"b":114,"v":27,"s":"f"},{"b":116,"v":27,"s":"f"},{"b":118,"v":14,"s":"f"},{"b":120,"v":4,"s":"f"},{"b":121,"v":2,"s":"f"},{"b":122,"v":14,"s":"f"},{"b":124,"v":50,"s":"f"},{"b":125,"v":82,"s":"f"},{"b":126,"v":94,"s":"f"},{"b":127,"v":87,"s":"f"},{"b":128,"v":73,"s":"f"},{"b":130,"v":73,"s":"f"},{"b":131,"v":50,"s":"f"},{"b":132,"v":55,"s":"f"},{"b":133,"v":60,"s":"f"},{"b":134,"v":60,"s":"f"},{"b":135,"v":50,"s":"f"},{"b":136,"v":69,"s":"f"},{"b":137,"v":73,"s":"f"},{"b":138,"v":69,"s":"f"},{"b":139,"v":60,"s":"f"},{"b":140,"v":64,"s":"f"},{"b":141,"v":50,"s":"f"},{"b":142,"v":32,"s":"f"},{"b":143,"v":41,"s":"f"},{"b":144,"v":50,"s":"f"},{"b":145,"v":60,"s":"f"},{"b":147,"v":46,"s":"f"},{"b":148,"v":27,"s":"f"},{"b":149,"v":32,"s":"f"},{"b":150,"v":23,"s":"f"},{"b":151,"v":14,"s":"f"},{"b":152,"v":18,"s":"f"},{"b":153,"v":14.33,"s":"f"},
{"b":0,"v":25,"s":"sl"},{"b":6,"v":27,"s":"sl"},{"b":12,"v":33,"s":"sl"},{"b":18,"v":27,"s":"sl"},{"b":24,"v":27,"s":"sl"},{"b":27,"v":50,"s":"sl"},{"b":29,"v":66,"s":"sl"},{"b":32,"v":64,"s":"sl"},{"b":38,"v":46,"s":"sl"},{"b":45,"v":41,"s":"sl"},{"b":54,"v":50,"s":"sl"},{"b":58,"v":66,"s":"sl"},{"b":64,"v":68,"s":"sl"},{"b":74,"v":60,"s":"sl"},{"b":84,"v":60,"s":"sl"},{"b":94,"v":55,"s":"sl"},{"b":105,"v":55,"s":"sl"},{"b":115,"v":46,"s":"sl"},{"b":121,"v":32,"s":"sl"},{"b":124,"v":50,"s":"sl"},{"b":127,"v":68,"s":"sl"},{"b":133,"v":64,"s":"sl"},{"b":143,"v":55,"s":"sl"},{"b":148,"v":41,"s":"sl"},{"b":153,"v":36.0,"s":"sl"}],
"stl":[{"v":80},{"v":20}],
"rsl":[{"v":70},{"v":30}]
},
"vconcat":[
{"width":508,"height":177,
 "title":{"text":"▼ XAUUSD,H4 1188.97 1190.79 1188.49 1188.94","fontSize":3,"offset":-3,"dx":2},
 "encoding":{"y":{"type":"quantitative","scale":{"domain":[1130.1,1225.97],"nice":false,"zero":false},"title":null,"axis":{"orient":"right","values":[1225.05,1217.75,1210.45,1202.95,1195.85,1180.95,1173.95,1166.65,1159.35,1152.05,1144.75,1137.45,1130.15],"format":".2f","title":null,"labelOverlap":false,"labelFontSize":3.6,"tickSize":2}}},
 "layer":[
 {"data":{"name":"seps"},"mark":{"type":"rule","color":"#000","strokeDash":[1,1.5],"strokeWidth":0.8},"encoding":{"y":null,"x":{"field":"b","type":"quantitative","scale":{"domain":[-0.55,153.4],"nice":false,"zero":false},"axis":null}}},
 {"data":{"name":"levels"},"mark":{"type":"rule","color":"#dca6a0","strokeWidth":2},"encoding":{"y":{"field":"p"}}},
 {"data":{"name":"ma"},"mark":{"type":"line","strokeWidth":0.9,"interpolate":"monotone","clip":true},"encoding":{"x":{"field":"b","type":"quantitative","scale":{"domain":[-0.55,153.4],"nice":false,"zero":false},"axis":null},"y":{"field":"v"},"color":{"field":"s","type":"nominal","scale":{"domain":["slow","mid","fast"],"range":["#a452b6","#5a3447","#505050"]},"legend":null}}},
 {"data":{"name":"candles"},"mark":{"type":"rule","strokeWidth":0.8},"encoding":{"x":{"field":"b","type":"quantitative","scale":{"domain":[-0.55,153.4],"nice":false,"zero":false},"axis":null},"y":{"field":"l"},"y2":{"field":"h"},"color":{"condition":{"test":"datum.c >= datum.o","value":"#2f9a3e"},"value":"#cf2b2b"}}},
 {"data":{"name":"candles"},"mark":{"type":"bar","size":2.3},"encoding":{"x":{"field":"b","type":"quantitative","scale":{"domain":[-0.55,153.4],"nice":false,"zero":false},"axis":null},"y":{"field":"o"},"y2":{"field":"c"},"color":{"condition":{"test":"datum.c >= datum.o","value":"#2f9a3e"},"value":"#cf2b2b"}}},
 {"data":{"name":"tags"},"mark":{"type":"bar","size":4.4,"clip":false},"encoding":{"x":{"datum":154.3,"type":"quantitative"},"x2":{"datum":160.4},"y":{"field":"p"},"color":{"condition":{"test":"datum.k == 'k'","value":"#111111"},"value":"#c4453f"}}},
 {"data":{"name":"tags"},"mark":{"type":"text","align":"left","baseline":"middle","fontSize":3.4,"color":"white","clip":false},"encoding":{"x":{"datum":154.6,"type":"quantitative"},"y":{"field":"p"},"text":{"field":"t"}}}
 ]},
{"width":508,"height":40,
 "title":{"text":"MACD(12,26,9) -1.268 -1.776","fontSize":3,"offset":-4,"dx":2},
 "layer":[
 {"data":{"name":"seps"},"mark":{"type":"rule","color":"#000","strokeDash":[1,1.5],"strokeWidth":0.8},"encoding":{"x":{"field":"b","type":"quantitative","scale":{"domain":[-0.55,153.4],"nice":false,"zero":false},"axis":null}}},
 {"data":{"name":"macd"},"mark":{"type":"rule","color":"#8cc88c","strokeWidth":0.8},"encoding":{"x":{"field":"b","type":"quantitative","scale":{"domain":[-0.55,153.4],"nice":false,"zero":false},"axis":null},"y":{"field":"m","type":"quantitative","scale":{"domain":[-18.4,12.26],"nice":false,"zero":false},"title":null,"axis":{"orient":"right","values":[9.625,0,-17.954],"labelExpr":"datum.value == 0 ? '0.00' : (datum.value < 0 ? '-17.954' : '9.625')","title":null,"labelOverlap":false}},"y2":{"datum":0}}},
 {"data":{"name":"macds"},"mark":{"type":"line","color":"#9b3535","strokeWidth":0.9,"interpolate":"monotone"},"encoding":{"x":{"field":"b","type":"quantitative","scale":{"domain":[-0.55,153.4],"nice":false,"zero":false},"axis":null},"y":{"field":"v","type":"quantitative","title":null}}}
 ]},
{"width":508,"height":39,
 "title":{"text":"Stoch(8,3,3) 16.9096 19.6277","fontSize":3,"offset":-3,"dx":2},
 "layer":[
 {"data":{"name":"seps"},"mark":{"type":"rule","color":"#000","strokeDash":[1,1.5],"strokeWidth":0.8},"encoding":{"x":{"field":"b","type":"quantitative","scale":{"domain":[-0.55,153.4],"nice":false,"zero":false},"axis":null}}},
 {"data":{"name":"stl"},"mark":{"type":"rule","color":"#b0b0b0","strokeDash":[1,1.5],"strokeWidth":0.7},"encoding":{"y":{"field":"v","type":"quantitative","scale":{"domain":[-5.6,103.4],"nice":false,"zero":false},"title":null,"axis":{"orient":"right","values":[100,80,20,0],"title":null,"labelOverlap":false}}}},
 {"data":{"name":"stoch"},"mark":{"type":"line","strokeWidth":0.9,"interpolate":"monotone"},"encoding":{"x":{"field":"b","type":"quantitative","scale":{"domain":[-0.55,153.4],"nice":false,"zero":false},"axis":null},"y":{"field":"v","type":"quantitative","title":null},"color":{"field":"s","type":"nominal","scale":{"domain":["m","s"],"range":["#7d2f35","#5fae5f"]},"legend":null}}}
 ]},
{"width":508,"height":38,
 "title":{"text":"RSI(14) 36.0021 RSI(3) 14.3328","fontSize":3,"offset":-3,"dx":2},
 "layer":[
 {"data":{"name":"seps"},"mark":{"type":"rule","color":"#000","strokeDash":[1,1.5],"strokeWidth":0.8},"encoding":{"x":{"field":"b","type":"quantitative","scale":{"domain":[-0.55,153.4],"nice":false,"zero":false},"title":null,"axis":{"orient":"bottom","values":[0,8,16,24,32,40,48,56,64,72,80,88,96,104,112,120,128,136,144,152],"labels":false,"tickSize":3,"title":null}}}},
 {"data":{"name":"rsl"},"mark":{"type":"rule","color":"#b0b0b0","strokeDash":[1,1.5],"strokeWidth":0.7},"encoding":{"y":{"field":"v","type":"quantitative","scale":{"domain":[-0.5,104.4],"nice":false,"zero":false},"title":null,"axis":{"orient":"right","values":[100,70,30,0],"title":null,"labelOverlap":false}}}},
 {"data":{"name":"rsi"},"mark":{"type":"line","strokeWidth":0.9},"encoding":{"x":{"field":"b","type":"quantitative","title":null},"y":{"field":"v","type":"quantitative","title":null},"color":{"field":"s","type":"nominal","scale":{"domain":["f","sl"],"range":["#7d2f35","#6ab36a"]},"legend":null}}}
 ]}
]}
